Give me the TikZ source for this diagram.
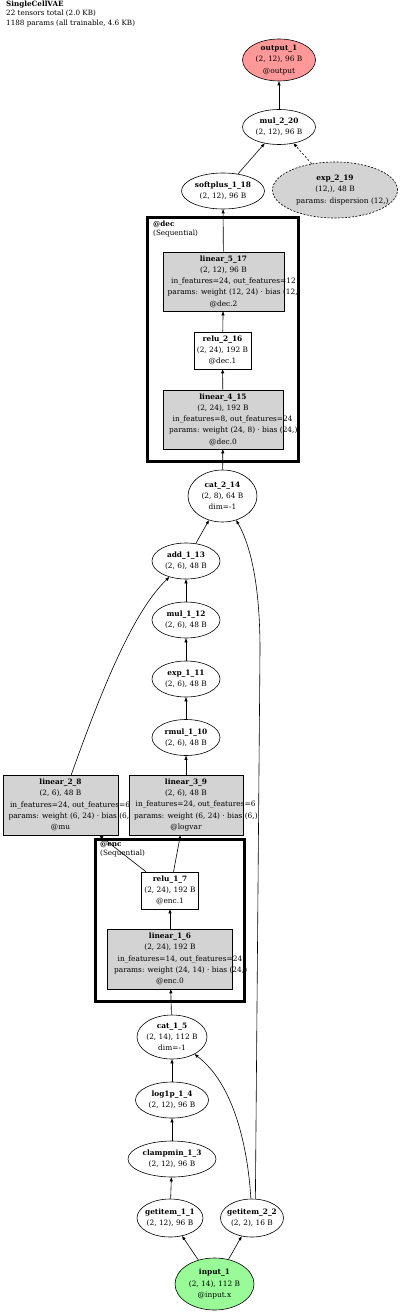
\documentclass[tikz,border=0pt]{standalone}
\usepackage{fontspec}
\setmainfont{DejaVu Serif}
\usepackage{tikz}
\usetikzlibrary{arrows.meta,shapes.geometric}
\definecolor{outred}{HTML}{FF9999}
\definecolor{ingreen}{HTML}{98FB98}
\definecolor{modgray}{HTML}{D3D3D3}
% long label lines run over to the right, as in the source render
\newlength{\gvwd}
\newcommand{\gvline}[1]{\settowidth{\gvwd}{#1}\makebox[0.84\gvwd][l]{#1}}

\begin{document}
\begin{tikzpicture}[x=1pt, y=-1pt,
  txt/.style={label={[font=\fontsize{7.4}{11.2}\selectfont, align=center, inner sep=0pt]center:{#1}}},
  op/.style={ellipse, draw, line width=0.6pt, inner sep=0pt, fill=white, minimum width=68, minimum height=36},
  mod/.style={rectangle, draw, line width=0.6pt, inner sep=0pt, fill=modgray, minimum width=120, minimum height=59},
  arr/.style={-{Triangle[length=4pt, width=3pt]}, line width=0.6pt},
  cluster/.style={rectangle, draw, line width=3pt, inner sep=0pt},
  tag/.style={anchor=north west, inner sep=0pt, align=left, font=\fontsize{7.2}{9}\selectfont}
]
  \useasboundingbox (0,0) rectangle (400,1313);

  \node[tag, font=\fontsize{7.2}{9.3}\selectfont] (title) at (6,1) {\textbf{SingleCellVAE}\\22 tensors total (2.0 KB)\\1188 params (all trainable, 4.6 KB)};

  % output side
  \node[op, minimum width=73, minimum height=42, fill=outred, txt={\textbf{output\_1}\\(2, 12), 96 B\\@output}] (output1) at (279,60) {};
  \node[op, minimum width=73, minimum height=35, txt={\textbf{mul\_2\_20}\\(2, 12), 96 B}] (mul220) at (279,127) {};
  \node[op, minimum width=83, txt={\textbf{softplus\_1\_18}\\(2, 12), 96 B}] (softplus118) at (223,191) {};
  \node[op, minimum width=125, minimum height=56, fill=modgray, dash pattern=on 2pt off 1.5pt, txt={\textbf{exp\_2\_19}\\(12,), 48 B\\\gvline{params: dispersion (12,)}}] (exp219) at (335,190) {};

  % decoder
  \node[mod, minimum width=121, txt={\textbf{linear\_5\_17}\\(2, 12), 96 B\\\gvline{in\_features=24, out\_features=12}\\\gvline{params: weight (12, 24) · bias (12,)}\\@dec.2}] (lin517) at (223.5,281.5) {};
  \node[mod, fill=white, minimum width=57, minimum height=37, txt={\textbf{relu\_2\_16}\\(2, 24), 192 B\\@dec.1}] (relu216) at (222.5,350.5) {};
  \node[mod, txt={\textbf{linear\_4\_15}\\(2, 24), 192 B\\\gvline{in\_features=8, out\_features=24}\\\gvline{params: weight (24, 8) · bias (24,)}\\@dec.0}] (lin415) at (223,419.5) {};
  \node[cluster, minimum width=151, minimum height=243] (dec) at (222.5,339.5) {};
  \node[tag] (declbl) at (153,221) {\textbf{@dec}\\(Sequential)};

  % latent
  \node[op, minimum width=69, minimum height=52, txt={\textbf{cat\_2\_14}\\(2, 8), 64 B\\dim=-1}] (cat214) at (222.5,496) {};
  \node[op, txt={\textbf{add\_1\_13}\\(2, 6), 48 B}] (add113) at (186,561) {};
  \node[op, txt={\textbf{mul\_1\_12}\\(2, 6), 48 B}] (mul112) at (186,620) {};
  \node[op, txt={\textbf{exp\_1\_11}\\(2, 6), 48 B}] (exp111) at (186,679) {};
  \node[op, txt={\textbf{rmul\_1\_10}\\(2, 6), 48 B}] (rmul110) at (186,737.5) {};
  \node[mod, minimum width=115, minimum height=60, txt={\textbf{linear\_2\_8}\\(2, 6), 48 B\\\gvline{in\_features=24, out\_features=6}\\\gvline{params: weight (6, 24) · bias (6,)}\\@mu}] (lin28) at (60.5,805) {};
  \node[mod, minimum width=114, minimum height=60, txt={\textbf{linear\_3\_9}\\(2, 6), 48 B\\\gvline{in\_features=24, out\_features=6}\\\gvline{params: weight (6, 24) · bias (6,)}\\@logvar}] (lin39) at (186,805) {};

  % encoder
  \node[mod, fill=white, minimum width=57, minimum height=37, txt={\textbf{relu\_1\_7}\\(2, 24), 192 B\\@enc.1}] (relu17) at (170,890.5) {};
  \node[mod, minimum width=125, minimum height=60, txt={\textbf{linear\_1\_6}\\(2, 24), 192 B\\\gvline{in\_features=14, out\_features=24}\\\gvline{params: weight (24, 14) · bias (24,)}\\@enc.0}] (lin16) at (170,959) {};
  \node[cluster, minimum width=149, minimum height=162] (enc) at (169.5,920) {};
  \node[tag] (enclbl) at (100,841) {\textbf{@enc}\\(Sequential)};

  % input side
  \node[op, minimum width=70, minimum height=44, txt={\textbf{cat\_1\_5}\\(2, 14), 112 B\\dim=-1}] (cat15) at (172,1037) {};
  \node[op, minimum width=73, txt={\textbf{log1p\_1\_4}\\(2, 12), 96 B}] (log1p14) at (172,1100) {};
  \node[op, minimum width=88, txt={\textbf{clampmin\_1\_3}\\(2, 12), 96 B}] (clamp13) at (172,1159) {};
  \node[op, minimum width=66, minimum height=38, txt={\textbf{getitem\_1\_1}\\(2, 12), 96 B}] (gi11) at (170,1218) {};
  \node[op, minimum width=63, minimum height=38, txt={\textbf{getitem\_2\_2}\\(2, 2), 16 B}] (gi22) at (252,1218) {};
  \node[op, minimum width=79, minimum height=52, fill=ingreen, txt={\textbf{input\_1}\\(2, 14), 112 B\\@input.x}] (in1) at (214.5,1284) {};

  \draw[arr] (in1) -- (gi11);
  \draw[arr] (in1) -- (gi22);
  \draw[arr] (gi11) -- (clamp13);
  \draw[arr] (clamp13) -- (log1p14);
  \draw[arr] (log1p14) -- (cat15);
  \draw[arr] (gi22) .. controls (248,1150) and (235,1085) .. (cat15);
  \draw[arr] (cat15) -- (lin16);
  \draw[arr] (lin16) -- (relu17);
  \draw[arr] (relu17) -- (lin28);
  \draw[arr] (relu17) -- (lin39);
  \draw[arr] (lin39) -- (rmul110);
  \draw[arr] (rmul110) -- (exp111);
  \draw[arr] (exp111) -- (mul112);
  \draw[arr] (mul112) -- (add113);
  \draw[arr] (lin28) .. controls (105,680) and (135,610) .. (add113);
  \draw[arr] (add113) -- (cat214);
  \draw[arr] (gi22.80) -- (260,650) .. controls (260,590) and (252,548) .. (cat214);
  \draw[arr] (cat214) -- (lin415);
  \draw[arr] (lin415) -- (relu216);
  \draw[arr] (relu216) -- (lin517);
  \draw[arr] (lin517) -- (softplus118);
  \draw[arr] (softplus118) -- (mul220);
  \draw[arr, dash pattern=on 2pt off 2pt] (exp219) -- (mul220);
  \draw[arr] (mul220) -- (output1);
\end{tikzpicture}
\end{document}
